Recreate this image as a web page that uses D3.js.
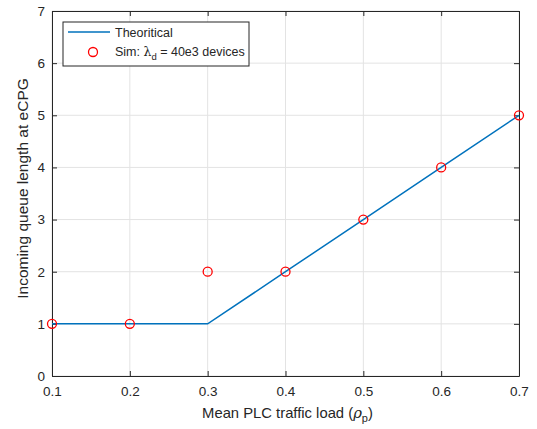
<!DOCTYPE html>
<html>
<head>
    <script src="https://d3js.org/d3.v7.min.js"></script>
    <style>
        body { margin: 0; background: #fff; font-family: "Liberation Sans", Arial, sans-serif; }
        svg text { fill: #262626; }
    </style>
</head>
<body>
<div id="chart"></div>
<script>
    // data
    const load = [0.1, 0.2, 0.3, 0.4, 0.5, 0.6, 0.7];
    const theory = [1, 1, 1, 2, 3, 4, 5];
    const sim = [1, 1, 2, 2, 3, 4, 5];
    const xTicks = [0.1, 0.2, 0.3, 0.4, 0.5, 0.6, 0.7];
    const yTicks = [0, 1, 2, 3, 4, 5, 6, 7];

    const width = 537, height = 429;
    const m = { left: 52, right: 18, top: 11, bottom: 53 };
    const iw = width - m.left - m.right;
    const ih = height - m.top - m.bottom;

    const svg = d3.select("#chart").append("svg")
        .attr("width", width).attr("height", height);
    const g = svg.append("g").attr("transform", `translate(${m.left},${m.top})`);

    const x = d3.scaleLinear().domain([0.1, 0.7]).range([0, iw]);
    const y = d3.scaleLinear().domain([0, 7]).range([ih, 0]);

    // grid
    g.append("g").selectAll("line").data(xTicks).enter().append("line")
        .attr("x1", d => x(d)).attr("x2", d => x(d))
        .attr("y1", 0).attr("y2", ih)
        .attr("stroke", "#e3e3e3").attr("stroke-width", 1);
    g.append("g").selectAll("line").data(yTicks).enter().append("line")
        .attr("y1", d => y(d)).attr("y2", d => y(d))
        .attr("x1", 0).attr("x2", iw)
        .attr("stroke", "#e3e3e3").attr("stroke-width", 1);

    // axes (matlab style, ticks inward)
    const axColor = "#262626";
    const xAxis = g.append("g").attr("transform", `translate(0,${ih})`)
        .call(d3.axisBottom(x).tickValues(xTicks).tickFormat(d3.format(".1f")).tickSizeInner(-5).tickSizeOuter(0).tickPadding(10));
    const yAxis = g.append("g")
        .call(d3.axisLeft(y).tickValues(yTicks).tickFormat(d3.format("d")).tickSizeInner(-5).tickSizeOuter(0).tickPadding(7));
    const xTop = g.append("g")
        .call(d3.axisTop(x).tickValues(xTicks).tickFormat("").tickSizeInner(-5).tickSizeOuter(0));
    const yRight = g.append("g").attr("transform", `translate(${iw},0)`)
        .call(d3.axisRight(y).tickValues(yTicks).tickFormat("").tickSizeInner(-5).tickSizeOuter(0));
    [xAxis, yAxis, xTop, yRight].forEach(a => {
        a.selectAll("path, line").attr("stroke", axColor);
        a.selectAll("text").attr("font-size", 13.5).attr("fill", axColor)
            .attr("font-family", "'Liberation Sans', Arial, sans-serif");
    });

    // theoretical line
    const line = d3.line().x((d, i) => x(load[i])).y(d => y(d));
    g.append("path").datum(theory)
        .attr("d", line)
        .attr("fill", "none")
        .attr("stroke", "#0072BD")
        .attr("stroke-width", 1.5);

    // simulation markers
    g.append("g").selectAll("circle").data(sim).enter().append("circle")
        .attr("cx", (d, i) => x(load[i]))
        .attr("cy", d => y(d))
        .attr("r", 4.5)
        .attr("fill", "none")
        .attr("stroke", "#ff0000")
        .attr("stroke-width", 1.3);

    // axis labels
    const xl = svg.append("text")
        .attr("x", m.left + iw / 2 + 2).attr("y", 418)
        .attr("text-anchor", "middle").attr("font-size", 14.8);
    xl.append("tspan").text("Mean PLC traffic load (");
    xl.append("tspan").attr("font-style", "italic").attr("font-family", "'DejaVu Serif', serif").text("ρ");
    xl.append("tspan").attr("font-size", 11).attr("dy", 4).text("p");
    xl.append("tspan").attr("dy", -4).text(")");

    svg.append("text")
        .attr("transform", `translate(28,${m.top + ih / 2 - 5}) rotate(-90)`)
        .attr("text-anchor", "middle").attr("font-size", 15.5)
        .text("Incoming queue length at eCPG");

    // legend
    const lg = svg.append("g").attr("transform", "translate(63,22)");
    lg.append("rect").attr("width", 186).attr("height", 44)
        .attr("fill", "#fff").attr("stroke", axColor).attr("stroke-width", 1);
    lg.append("line").attr("x1", 5).attr("x2", 47).attr("y1", 10).attr("y2", 10)
        .attr("stroke", "#0072BD").attr("stroke-width", 1.5);
    lg.append("text").attr("x", 52).attr("y", 15).attr("font-size", 12.5).text("Theoritical");
    lg.append("circle").attr("cx", 30).attr("cy", 30).attr("r", 4.5)
        .attr("fill", "none").attr("stroke", "#ff0000").attr("stroke-width", 1.3);
    const st = lg.append("text").attr("x", 52).attr("y", 34).attr("font-size", 12.5);
    st.append("tspan").text("Sim: ");
    st.append("tspan").attr("font-family", "'DejaVu Serif', serif").text("λ");
    st.append("tspan").attr("font-size", 9.5).attr("dy", 4).text("d");
    st.append("tspan").attr("dy", -4).text(" = 40e3 devices");
</script>
</body>
</html>
